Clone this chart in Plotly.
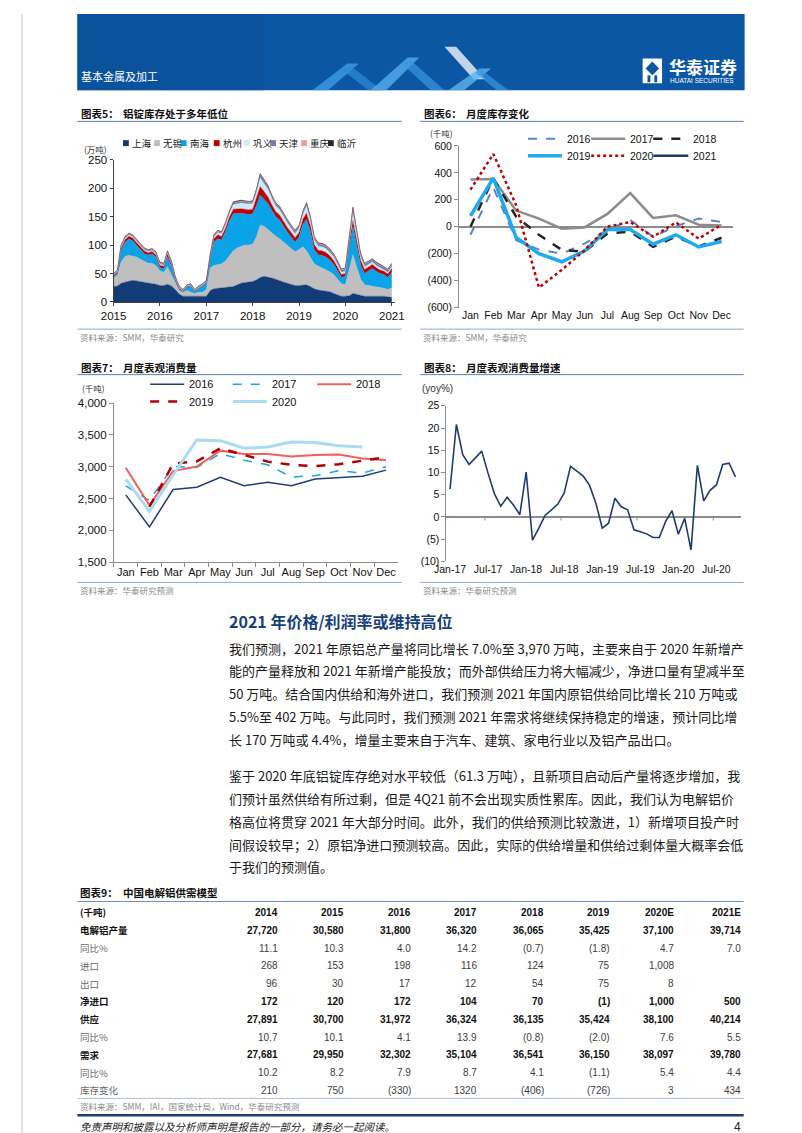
import plotly.graph_objects as go
import pandas as pd

W, H = 802, 1133
def X(v): return v / W
def Y(v): return 1 - v / H

SANS = "Liberation Sans, Arial, Noto Sans CJK SC, sans-serif"
CJK = "Noto Sans CJK SC, Liberation Sans, sans-serif"
NARROW = "Liberation Sans Narrow, Liberation Sans, Noto Sans CJK SC, sans-serif"

# ---------------- Chart 5 data: aluminium ingot stocks by region (万吨), monthly
stock_dates = list(pd.date_range("2015-01-01", "2021-01-01", freq="MS").strftime("%Y-%m-%d"))
shanghai = [27,28,33,35,37,38,37,36,35,34,33,31,
            29,29,31,28,22,14,10,10,10,9,9,9,
            10,20,23,24,25,25,26,27,30,33,34,35,
            36,39,43,45,44,42,40,37,35,33,31,29,
            29,30,30,27,23,21,20,19,18,15,13,10,
            10,11,15,13,11,10,10,10,11,10,10,9,
            8]
wuxi = [15,19,37,45,45,43,42,39,36,34,35,33,
        26,23,31,20,13,6,7,10,7,6,8,8,
        12,40,41,41,42,47,54,63,65,65,66,65,
        66,76,92,88,83,80,76,74,70,66,62,59,
        63,67,60,51,44,42,40,38,35,33,27,22,
        20,44,68,47,29,20,19,18,16,16,14,13,
        17]
nanhai = [2.5,3.5,20.5,24.5,28.5,26.5,20.5,16.5,13.5,14.5,16.5,14.5,
          5.5,6.5,17.5,14.5,3,2,1,6,11,3,7,11,
          11,15,41,46,42,52,62,65,61,58,55,54,
          53,55,53,47,46,39,34,33,27,24,21,17,
          22,40,55,46,25,20,22,22,21,18,15,11,
          15,43,50,40,25,20,25,31,27,24,24,21,
          27]
hangzhou = [2,3,4,5,5,5,5,5,5,4,4,4,
            4,4,5,4,3,2,1,1,1,1,1,1,
            1,4,6,7,6,6,7,8,8,8,8,8,
            8,12,15,14,12,10,9,9,9,8,8,8,
            8,9,11,10,9,8,8,8,7,7,6,5,
            5,8,10,9,8,7,7,7,6,6,6,6,
            7]
gongyi = [1,1,2,2,2,2,2,2,2,2,2,2,
          2,2,2,2,1,1,1,1,1,1,1,1,
          1,2,3,4,5,6,7,8,9,10,10,10,
          10,12,15,14,13,11,10,9,8,8,7,7,
          7,8,12,10,8,7,7,7,6,6,5,4,
          4,7,14,9,6,5,5,4,4,4,3,3,
          3]
tianjin = [1,1,2,2,2,2,2,2,2,2,2,2,
           2,2,2,2,2,2,1,1,1,1,1,1,
           1,2,2,2,2,2,2,3,3,3,3,3,
           3,4,6,5,5,4,4,4,4,4,4,4,
           4,4,5,4,4,4,4,4,4,4,4,4,
           4,5,8,5,4,4,4,4,4,4,4,4,
           4]
chongqing = [1,1,1,1,1,1,1,1,1,1,1,1,
             1,1,1,1,0.5,0.5,0.5,0.5,0.5,0.5,0.5,0.5,
             1,1,1,1,1,1,1,1,1,1,1,1,
             1,1,1,1,1,1,1,1,1,1,1,1,
             1,1,1,1,1,1,1,1,1,1,1,1,
             1,1,1,1,1,1,1,1,1,1,1,1,
             1]
linyi = [0.5,0.5,0.5,0.5,0.5,0.5,0.5,0.5,0.5,0.5,0.5,0.5,
         0.5,0.5,0.5,0.5,0.5,0.5,0.5,0.5,0.5,0.5,0.5,0.5,
         1,1,1,1,1,1,1,1,1,1,1,1,
         1,1,1,1,1,1,1,1,1,1,1,1,
         1,1,1,1,1,1,1,1,1,1,1,1,
         1,1,1,1,1,1,1,1,1,1,1,1,
         1]
region_names = ["上海", "无锡", "南海", "杭州", "巩义", "天津", "重庆", "临沂"]
region_values = [shanghai, wuxi, nanhai, hangzhou, gongyi, tianjin, chongqing, linyi]
region_colors = ["#123C78", "#BFBFBF", "#0AA3E8", "#C00000", "#CDEAF8", "#6F7FA8", "#F29A9A", "#262626"]
year_ticks = ["2015", "2016", "2017", "2018", "2019", "2020", "2021"]

# ---------------- Chart 6 data: monthly stock change (千吨)
months = ["Jan", "Feb", "Mar", "Apr", "May", "Jun", "Jul", "Aug", "Sep", "Oct", "Nov", "Dec"]
inv_2016 = [-60, 290, -100, -170, -200, -125, -25, 50, -75, 5, 60, 35]
inv_2017 = [350, 355, 120, 60, -15, -5, 95, 250, 65, 85, 15, 10]
inv_2018 = [0, 360, 75, -60, -172, -185, -50, -37, -150, -73, -147, -82]
inv_2019 = [80, 360, -80, -200, -260, -180, -20, -20, -130, -60, -150, -110]
inv_2020 = [275, 540, 160, -452, -320, -175, 0, 35, -75, 32, -88, 15]
inv_2021 = [90, None, None, None, None, None, None, None, None, None, None, None]
inv_ticks = [-600, -400, -200, 0, 200, 400, 600]
inv_ticktext = ["(600)", "(400)", "(200)", "0", "200", "400", "600"]

# ---------------- Chart 7 data: apparent consumption (千吨)
cons_2016 = [2558, 2055, 2641, 2677, 2833, 2703, 2755, 2703, 2807, 2833, 2849, 2947]
cons_2017 = [2700, 2470, 3004, 2990, 3206, 3103, 3030, 2838, 2860, 2937, 2900, 3000]
cons_2018 = [2983, 2392, 2931, 3004, 3253, 3201, 3201, 3160, 3186, 3191, 3129, 3103]
cons_2019 = [None, 2370, 3046, 3085, 3290, 3185, 3080, 3030, 3010, 3040, 3090, 3150]
cons_2020 = [2800, 2300, 2870, 3420, 3410, 3290, 3310, 3390, 3380, 3330, 3310, None]

# ---------------- Chart 8 data: apparent consumption growth (yoy %)
growth_months = list(pd.date_range("2017-01-01", "2020-10-01", freq="MS").strftime("%b-%y"))
growth = [6.3, 20.8, 14.0, 11.8, 13.3, 14.8, 9.8, 5.2, 2.4, 4.4, 2.7, 0.5,
          10.1, -5.2, -2.5, 0.4, 1.6, 2.9, 5.4, 11.4, 10.3, 9.2, 7.1, 3.1,
          -2.5, -1.4, 4.2, 2.3, 1.6, -2.9, -3.3, -3.8, -4.6, -4.6, -1.0, 1.4,
          -3.9, -0.3, -7.4, 11.6, 3.6, 6.0, 7.2, 11.8, 12.1, 9.0]
growth_ticklabels = ["Jan-17", "Jul-17", "Jan-18", "Jul-18", "Jan-19", "Jul-19", "Jan-20", "Jul-20"]
growth_ticks = [-10, -5, 0, 5, 10, 15, 20, 25]
growth_ticktext = ["(10)", "(5)", "0", "5", "10", "15", "20", "25"]
growth_zero_ticks = [5.5, 17.5, 29.5, 41.5]

# ---------------- Table 9 data
table_cols = ["2014", "2015", "2016", "2017", "2018", "2019", "2020E", "2021E"]
row_labels = ["电解铝产量", "同比%", "进口", "出口", "净进口", "供应", "同比%", "需求", "同比%", "库存变化"]
row_bold = [True, False, False, False, True, True, False, True, False, False]
t_production = ["27,720", "30,580", "31,800", "36,320", "36,065", "35,425", "37,100", "39,714"]
t_prod_yoy = ["11.1", "10.3", "4.0", "14.2", "(0.7)", "(1.8)", "4.7", "7.0"]
t_import = ["268", "153", "198", "116", "124", "75", "1,008", ""]
t_export = ["96", "30", "17", "12", "54", "75", "8", ""]
t_net_import = ["172", "120", "172", "104", "70", "(1)", "1,000", "500"]
t_supply = ["27,891", "30,700", "31,972", "36,324", "36,135", "35,424", "38,100", "40,214"]
t_supply_yoy = ["10.7", "10.1", "4.1", "13.9", "(0.8)", "(2.0)", "7.6", "5.5"]
t_demand = ["27,681", "29,950", "32,302", "35,104", "36,541", "36,150", "38,097", "39,780"]
t_demand_yoy = ["10.2", "8.2", "7.9", "8.7", "4.1", "(1.1)", "5.4", "4.4"]
t_stock_change = ["210", "750", "(330)", "1320", "(406)", "(726)", "3", "434"]
table_rows = [t_production, t_prod_yoy, t_import, t_export, t_net_import,
              t_supply, t_supply_yoy, t_demand, t_demand_yoy, t_stock_change]

para1 = ["我们预测，2021 年原铝总产量将同比增长 7.0%至 3,970 万吨，主要来自于 2020 年新增产",
         "能的产量释放和 2021 年新增产能投放；而外部供给压力将大幅减少，净进口量有望减半至",
         "50 万吨。结合国内供给和海外进口，我们预测 2021 年国内原铝供给同比增长 210 万吨或",
         "5.5%至 402 万吨。与此同时，我们预测 2021 年需求将继续保持稳定的增速，预计同比增",
         "长 170 万吨或 4.4%，增量主要来自于汽车、建筑、家电行业以及铝产品出口。"]
para2 = ["鉴于 2020 年底铝锭库存绝对水平较低（61.3 万吨），且新项目启动后产量将逐步增加，我",
         "们预计虽然供给有所过剩，但是 4Q21 前不会出现实质性累库。因此，我们认为电解铝价",
         "格高位将贯穿 2021 年大部分时间。此外，我们的供给预测比较激进，1）新增项目投产时",
         "间假设较早；2）原铝净进口预测较高。因此，实际的供给增量和供给过剩体量大概率会低",
         "于我们的预测值。"]

# ---------------- styles
inv_styles = {
    "2016": dict(color="#5A86C4", width=2, dash="dash"),
    "2017": dict(color="#8C8C8C", width=2.5, dash="solid"),
    "2018": dict(color="#262626", width=2.5, dash="dash"),
    "2019": dict(color="#1FA9EF", width=3.5, dash="solid"),
    "2020": dict(color="#C00000", width=2.5, dash="dot"),
    "2021": dict(color="#1F3864", width=2.5, dash="solid"),
}
cons_styles = {
    "2016": dict(color="#1F3B7A", width=1.5, dash="solid"),
    "2017": dict(color="#1CA6E0", width=1.5, dash="dash"),
    "2018": dict(color="#F0605D", width=2, dash="solid"),
    "2019": dict(color="#B00000", width=2.5, dash="dash"),
    "2020": dict(color="#A8DCF5", width=3, dash="solid"),
}

fig = go.Figure()
shapes, anns = [], []

def txt(x, y, s, size=10, color="#111111", bold=False, anchor="left", family=CJK, italic=False):
    if bold:
        s = "<b>" + s + "</b>"
    f = dict(size=size, color=color, family=family)
    if italic:
        f["style"] = "italic"
    anns.append(dict(x=X(x), y=Y(y), xref="paper", yref="paper", text=s, showarrow=False,
                     xanchor=anchor, yanchor="middle", font=f, borderpad=0))

def line(x0, y0, x1, y1, color, width=1, dash="solid"):
    shapes.append(dict(type="line", xref="paper", yref="paper", x0=X(x0), x1=X(x1), y0=Y(y0), y1=Y(y1),
                       line=dict(color=color, width=width, dash=dash)))

def rect(x0, y0, x1, y1, fill, opacity=1):
    shapes.append(dict(type="rect", xref="paper", yref="paper", x0=X(x0), x1=X(x1), y0=Y(y1), y1=Y(y0),
                       fillcolor=fill, line=dict(width=0), opacity=opacity, layer="below"))

def poly(points, fill, opacity=1):
    p = "M " + " L ".join(f"{X(a):.5f},{Y(b):.5f}" for a, b in points) + " Z"
    shapes.append(dict(type="path", xref="paper", yref="paper", path=p, fillcolor=fill,
                       line=dict(width=0), opacity=opacity, layer="below"))

# ---------------- header banner
rect(58, 0, 745, 77, "#0B57A4")
rect(58, 0, 250, 77, "#0A4E96", 0.6)
poly([(300, 77), (336, 50), (348, 50), (316, 77)], "#3E9BE6", 0.8)
poly([(336, 50), (372, 77), (358, 77), (330, 56)], "#2F8AD8", 0.7)
poly([(360, 77), (398, 44), (410, 44), (376, 77)], "#55AEEE", 0.8)
poly([(398, 44), (436, 77), (422, 77), (392, 50)], "#3C95DF", 0.7)
poly([(436, 33), (448, 33), (478, 66), (466, 66)], "#FFFFFF", 0.75)
poly([(440, 77), (472, 55), (484, 55), (456, 77)], "#5DB5F0", 0.8)
poly([(472, 55), (502, 77), (490, 77), (468, 60)], "#3C95DF", 0.7)
txt(61, 63, "基本金属及加工", size=11, color="#FFFFFF")
rect(640, 45, 660, 70, "#FFFFFF")
poly([(650, 48), (657, 55), (650, 62), (643, 55)], "#0B57A4")
rect(645, 62, 648, 69, "#0B57A4")
rect(652, 62, 655, 69, "#0B57A4")
txt(666, 53, "华泰证券", size=17, color="#FFFFFF", bold=True)
txt(667, 67.5, "HUATAI SECURITIES", size=6.5, color="#FFFFFF", family=SANS)
line(1, 0, 1, 1133, "#C8C8C8", 1)
line(800, 0, 800, 1133, "#C8C8C8", 1)

# ---------------- chart titles / sources
TITLE_LINE = "#5B7FB5"
for x0, x1, y, label, name in [(58, 392, 101, "图表5：", "铝锭库存处于多年低位"),
                               (411, 744, 101, "图表6：", "月度库存变化"),
                               (58, 392, 357, "图表7：", "月度表观消费量"),
                               (411, 744, 357, "图表8：", "月度表观消费量增速")]:
    txt(x0 + 3, y, label, size=10.5, bold=True, color="#111111")
    txt(x0 + 46, y, name, size=10.5, bold=True, color="#111111")
    line(x0, y + 7.5, x1, y + 7.5, TITLE_LINE, 1)
for x0, x1, y, s in [(58, 392, 318.5, "资料来源：SMM，华泰研究"),
                     (411, 744, 318.5, "资料来源：SMM，华泰研究"),
                     (58, 392, 574.5, "资料来源：华泰研究预测"),
                     (411, 744, 574.5, "资料来源：华泰研究预测")]:
    line(x0, y, x1, y, "#8FA9CF", 1)
    txt(x0 + 2, y + 8, s, size=8.5, color="#8A8A8A")

# ---------------- chart 5
for name, vals, col in zip(region_names, region_values, region_colors):
    fig.add_trace(go.Scatter(x=stock_dates, y=vals, name=name, stackgroup="s5", mode="lines",
                             line=dict(width=0.4, color=col), fillcolor=col,
                             xaxis="x", yaxis="y", showlegend=False, hoverinfo="skip"))
leg5_x = [108, 140, 167.5, 201.5, 232.5, 259.5, 291.5, 319]
for lx, name, col in zip(leg5_x, region_names, region_colors):
    rect(lx - 3, 127.5, lx + 3, 133.5, col)
    txt(lx + 5, 130.7, name, size=9.5, color="#222222")
txt(64, 136, "(万吨)", size=8.5, color="#333333")

# ---------------- chart 6
for yr, vals in zip(["2016", "2017", "2018", "2019", "2020", "2021"],
                    [inv_2016, inv_2017, inv_2018, inv_2019, inv_2020, inv_2021]):
    st = inv_styles[yr]
    fig.add_trace(go.Scatter(x=months, y=vals, name=yr, mode="lines", line=st,
                             xaxis="x2", yaxis="y2", showlegend=False, hoverinfo="skip"))
leg6 = [("2016", 522, 557, 126), ("2017", 587, 622, 126), ("2018", 651, 687, 126),
        ("2019", 522, 557, 143.3), ("2020", 587, 622, 143.3), ("2021", 651, 687, 143.3)]
for yr, a, b, y in leg6:
    st = inv_styles[yr]
    line(a, y, b, y, st["color"], st["width"], st["dash"])
    txt(b + 4, y, yr, size=10.5, family=SANS, color="#111111")
txt(420, 120.5, "(千吨)", size=8.5, color="#333333")

# ---------------- chart 7
for yr, vals in zip(["2016", "2017", "2018", "2019", "2020"],
                    [cons_2016, cons_2017, cons_2018, cons_2019, cons_2020]):
    st = cons_styles[yr]
    fig.add_trace(go.Scatter(x=months, y=vals, name=yr, mode="lines", line=st,
                             xaxis="x3", yaxis="y3", showlegend=False, hoverinfo="skip"))
leg7 = [("2016", 133, 168, 374.3), ("2017", 218, 253, 374.3), ("2018", 305, 340, 374.3),
        ("2019", 133, 168, 391.7), ("2020", 218, 253, 391.7)]
for yr, a, b, y in leg7:
    st = cons_styles[yr]
    line(a, y, b, y, st["color"], st["width"], st["dash"])
    txt(b + 4, y, yr, size=11, family=SANS, color="#111111")
txt(62, 377.5, "(千吨)", size=8.5, color="#333333")

# ---------------- chart 8
fig.add_trace(go.Scatter(x=growth_months, y=growth, mode="lines", line=dict(color="#1F3B73", width=1.6),
                         xaxis="x4", yaxis="y4", showlegend=False, hoverinfo="skip"))
for tx in growth_zero_ticks:
    shapes.append(dict(type="line", xref="x4", yref="y4", x0=tx, x1=tx, y0=0, y1=-0.8,
                       line=dict(color="#8C8C8C", width=1)))
txt(412, 378.3, "(yoy%)", size=10, family=SANS, color="#333333")

# ---------------- text section
txt(213, 614, "2021 年价格/利润率或维持高位", size=16, bold=True, color="#173F7C")
for i, s in enumerate(para1):
    txt(213, 641 + 23 * i, s, size=13, color="#1A1A1A")
for i, s in enumerate(para2):
    txt(213, 770 + 23 * i, s, size=13, color="#1A1A1A")

# ---------------- table
txt(60, 888, "图表9：", size=10.5, bold=True)
txt(104, 888, "中国电解铝供需模型", size=10.5, bold=True)
line(58, 897, 744, 897, "#6F8FBF", 1)
col_right = [266, 334, 403, 471, 539, 607, 673, 742]
txt(60, 908, "(千吨)", size=9.5, bold=True)
for cx, c in zip(col_right, table_cols):
    txt(cx, 908, c, size=10, bold=True, anchor="right", family=NARROW)
for r, (lab, vals, b) in enumerate(zip(row_labels, table_rows, row_bold)):
    y = 926 + 18 * r
    txt(60, y, lab, size=9.5, bold=b, color="#111111" if b else "#6A6A6A")
    for cx, v in zip(col_right, vals):
        if v:
            txt(cx, y, v, size=10, bold=b, anchor="right", family=NARROW,
                color="#111111" if b else "#404040")
line(58, 1096, 744, 1096, "#A9BCD8", 1)
txt(60, 1104, "资料来源：SMM，IAI，国家统计局，Wind，华泰研究预测", size=8.5, color="#8A8A8A")

# ---------------- footer
line(58, 1113, 744, 1113, "#1F3B73", 2.5)
txt(60, 1124.5, "免责声明和披露以及分析师声明是报告的一部分，请务必一起阅读。", size=10.5, color="#222222", italic=True)
txt(742, 1124.5, "4", size=12, anchor="right", family=SANS, color="#222222")

# ---------------- axes
def axfont(size):
    return dict(size=size, family=SANS, color="#111111")

fig.update_layout(
    width=W, height=H, margin=dict(l=0, r=0, t=0, b=0),
    paper_bgcolor="white", plot_bgcolor="rgba(0,0,0,0)",
    showlegend=False, shapes=shapes, annotations=anns,
    xaxis=dict(domain=[X(95.3), X(385)], type="date", range=["2015-01-01", "2021-01-26"],
               tickvals=[y + "-01-01" for y in year_ticks], ticktext=year_ticks,
               showline=True, linecolor="#404040", linewidth=1, ticks="outside", ticklen=3,
               tickcolor="#404040", showgrid=False, zeroline=False, tickfont=axfont(11.5), anchor="y"),
    yaxis=dict(domain=[Y(291), Y(147.3)], range=[0, 250], tickvals=[0, 50, 100, 150, 200, 250],
               showline=True, linecolor="#404040", linewidth=1, ticks="outside", ticklen=3,
               tickcolor="#404040", showgrid=False, zeroline=False, tickfont=axfont(11.5), anchor="x"),
    xaxis2=dict(domain=[X(451), X(733)], type="category", categoryorder="array", categoryarray=months,
                range=[-0.5, 11.5], showline=False, ticks="", showgrid=False, zeroline=False,
                tickangle=0, tickfont=axfont(10.5), anchor="y2"),
    yaxis2=dict(domain=[Y(296.7), Y(133.3)], range=[-600, 600], tickvals=inv_ticks, ticktext=inv_ticktext,
                showline=True, linecolor="#8C8C8C", ticks="outside", ticklen=4, tickcolor="#8C8C8C",
                showgrid=False, zeroline=True, zerolinecolor="#8C8C8C", zerolinewidth=1.5,
                tickfont=axfont(10.5), anchor="x2"),
    xaxis3=dict(domain=[X(95.7), X(388)], type="category", categoryorder="array", categoryarray=months,
                range=[-0.5, 11.5], showline=True, linecolor="#8C8C8C", ticks="outside", ticklen=4,
                tickson="boundaries", tickcolor="#8C8C8C", showgrid=False, zeroline=False,
                tickangle=0, tickfont=axfont(11), anchor="y3"),
    yaxis3=dict(domain=[Y(554), Y(393.3)], range=[1500, 4000], dtick=500, tickformat=",",
                showline=True, linecolor="#8C8C8C", ticks="outside", ticklen=4, tickcolor="#8C8C8C",
                showgrid=False, zeroline=False, tickfont=axfont(11.5), anchor="x3"),
    xaxis4=dict(domain=[X(438), X(741)], type="category", categoryorder="array", categoryarray=growth_months,
                range=[-0.57, 45.84], tickvals=growth_ticklabels, showline=False, ticks="",
                tickangle=0, showgrid=False, zeroline=False, tickfont=axfont(10.5), anchor="y4"),
    yaxis4=dict(domain=[Y(553.3), Y(396)], range=[-10, 25], tickvals=growth_ticks, ticktext=growth_ticktext,
                showline=True, linecolor="#8C8C8C", ticks="outside", ticklen=4, tickcolor="#8C8C8C",
                showgrid=False, zeroline=True, zerolinecolor="#8C8C8C", zerolinewidth=2,
                tickfont=axfont(10.5), anchor="x4"),
)

fig.write_html("out.html")
